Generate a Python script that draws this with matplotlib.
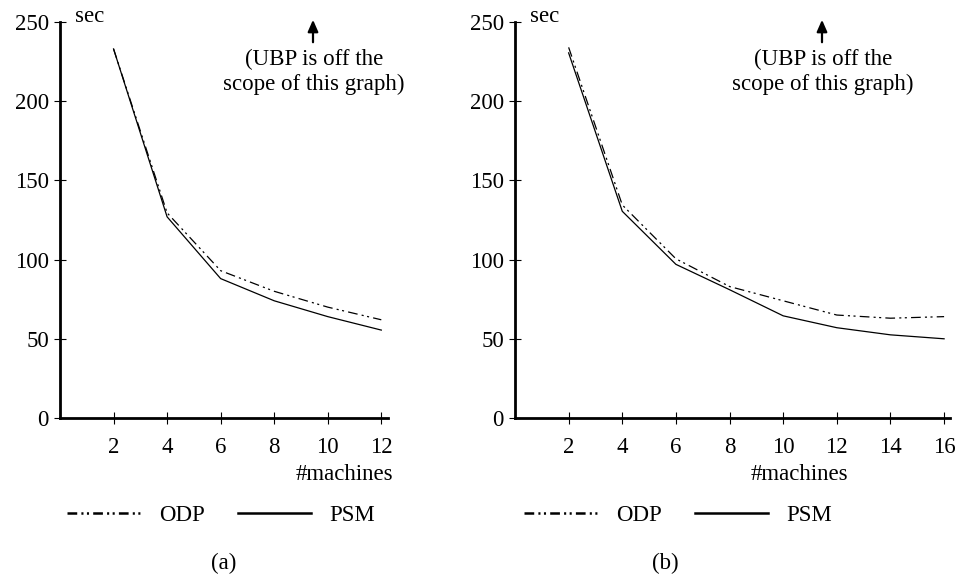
import matplotlib
matplotlib.use('Agg')
import matplotlib.pyplot as plt
from matplotlib.lines import Line2D
from matplotlib.patches import FancyArrowPatch

plt.rcParams['font.family'] = ['Liberation Serif', 'DejaVu Serif']
plt.rcParams['lines.scale_dashes'] = False

# (a) up to 12 machines
machines_a = [2, 4, 6, 8, 10, 12]
odp_a = [233, 129.5, 93, 80, 70, 62]
psm_a = [233, 127, 88, 74, 64, 55.5]

# (b) up to 16 machines
machines_b = [2, 4, 6, 8, 10, 12, 14, 16]
odp_b = [234, 134.5, 100.5, 83, 74, 65, 63, 64]
psm_b = [230.5, 130.5, 97, 81, 64.5, 57, 52.5, 50]

yticks = [0, 50, 100, 150, 200, 250]
note = "(UBP is off the\nscope of this graph)"
ODP_DASH = (0, (7, 3, 1.5, 2.5, 1.5, 3))
FS = 16.5

W, H = 959, 575
fig = plt.figure(figsize=(W / 100, H / 100), dpi=100)


def fx(px):
    return px / W


def fy(py):
    return 1 - py / H


def panel(left, right, xmax, xs, odp, psm, xticks, label, label_x, leg_x, note_x):
    ax = fig.add_axes([fx(left), fy(418), fx(right - left), (418 - 22) / H])
    ax.plot(xs, odp, color='black', lw=0.9, linestyle=ODP_DASH)
    ax.plot(xs, psm, color='black', lw=0.9)
    ax.set_xlim(0, xmax)
    ax.set_ylim(0, 250)
    ax.set_xticks(xticks)
    ax.set_yticks(yticks)
    ax.spines['top'].set_visible(False)
    ax.spines['right'].set_visible(False)
    ax.spines['left'].set_linewidth(2)
    ax.spines['bottom'].set_linewidth(2)
    ax.tick_params(direction='inout', length=8, width=0.8, labelsize=FS)
    ax.tick_params(axis='x', pad=10)
    ax.tick_params(axis='y', pad=4)

    fig.text(fx(left + 15), fy(16), 'sec', fontsize=FS, ha='left', va='center')
    fig.text(fx(left + 333), fy(474), '#machines', fontsize=FS,
             ha='right', va='center')

    # note with an arrow pointing up
    fig.text(fx(note_x), fy(72), note, fontsize=FS, ha='center',
             va='center', linespacing=1.25)
    fig.add_artist(FancyArrowPatch(
        (fx(note_x - 1), fy(45)), (fx(note_x - 1), fy(17)),
        transform=fig.transFigure, arrowstyle='-|>,head_length=0.5,head_width=0.22',
        mutation_scale=14, lw=1.6, color='black'))

    handles = [Line2D([], [], color='black', lw=1.8, linestyle=ODP_DASH),
               Line2D([], [], color='black', lw=1.8)]
    fig.legend(handles, ['ODP', 'PSM'], loc='center left',
               bbox_to_anchor=(fx(leg_x), fy(515)), ncol=2, frameon=False,
               fontsize=FS, handlelength=3.2, handletextpad=0.8,
               columnspacing=1.45, borderpad=0, borderaxespad=0)

    fig.text(fx(label_x), fy(563), label, fontsize=FS, ha='center', va='center')
    return ax


panel(60, 388, 12.25, machines_a, odp_a, psm_a, machines_a, '(a)', 224, 67, 314)
panel(515, 950, 16.22, machines_b, odp_b, psm_b, machines_b, '(b)', 665, 524, 823)

fig.savefig('out.png', dpi=100)
